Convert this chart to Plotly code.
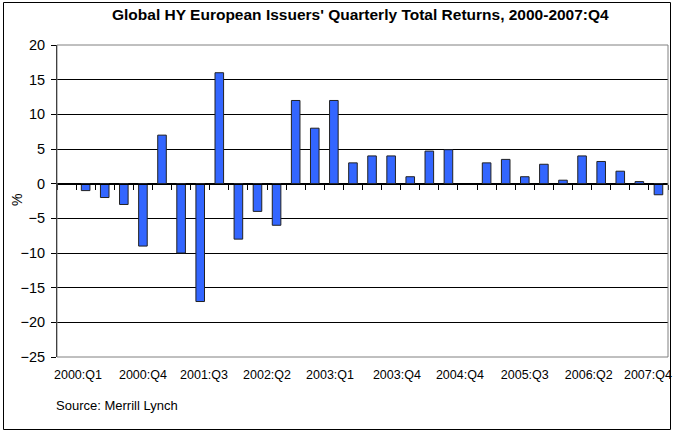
import plotly.graph_objects as go

# ---- data ----
quarters = [f"{y}:Q{q}" for y in range(2000, 2008) for q in range(1, 5)]
returns = [None, -1, -2, -3, -9, 7, -10, -17, 16, -8, -4, -6, 12, 8, 12, 3,
           4, 4, 1, 4.7, 4.9, None, 3, 3.5, 1, 2.8, 0.5, 4, 3.2, 1.8, 0.3, -1.6]
tick_labels = ["2000:Q1", "2000:Q4", "2001:Q3", "2002:Q2", "2003:Q1",
               "2003:Q4", "2004:Q4", "2005:Q3", "2006:Q2", "2007:Q4"]
tick_pos = [1.6, 5.0, 8.2, 11.5, 14.8, 18.3, 21.6, 25.0, 28.35, 31.45]
y_ticks = [20, 15, 10, 5, 0, -5, -10, -15, -20, -25]
y_min, y_max = -25, 20

W, H = 674, 432
PX0, PX1, PY0, PY1 = 57, 668, 45, 357  # plot area in pixels (top-left origin)

def fx(px):
    return px / W

def fy(py):
    return 1 - py / H

idx = list(range(1, len(quarters) + 1))

fig = go.Figure()
fig.add_trace(go.Bar(
    x=idx, y=returns, width=0.45,
    marker=dict(color="#3366FF", line=dict(color="#222222", width=1)),
    hovertext=quarters, showlegend=False,
))
fig.add_trace(go.Scatter(x=[idx[0]], y=[0], xaxis="x2", mode="markers",
                         marker=dict(opacity=0), showlegend=False, hoverinfo="skip"))

font = "Liberation Sans, Arial, sans-serif"
zero_frac = fy(PY1) + (0 - y_min) / (y_max - y_min) * (fy(PY0) - fy(PY1))
fig.update_layout(
    width=W, height=H,
    margin=dict(l=0, r=0, t=0, b=0, autoexpand=False),
    paper_bgcolor="white", plot_bgcolor="white",
    font=dict(family=font, color="#000000", size=12),
    xaxis=dict(domain=[fx(PX0), fx(PX1)], range=[0.5, len(quarters) + 0.5],
               tickmode="array", tickvals=tick_pos, ticktext=tick_labels, ticks="",
               showgrid=False, zeroline=False, showline=False, automargin=False,
               tickfont=dict(size=12.5), ticklabelstandoff=8),
    xaxis2=dict(range=[0.5, len(quarters) + 0.5], overlaying="x", anchor="free",
                position=zero_frac, showticklabels=False, showgrid=False, zeroline=False,
                showline=True, linecolor="#000000", linewidth=1, automargin=False,
                tickmode="linear", tick0=0.5, dtick=1, ticks="outside",
                ticklen=5, tickcolor="#000000", tickwidth=1),
    yaxis=dict(domain=[fy(PY1), fy(PY0)], range=[y_min, y_max], tickmode="array",
               tickvals=y_ticks, ticks="outside", ticklen=5, tickcolor="#000000",
               showgrid=True, gridcolor="#000000", gridwidth=1, automargin=False,
               zeroline=False, showline=True, linecolor="#000000", linewidth=1,
               tickfont=dict(size=14.5), ticklabelstandoff=3),
    bargap=0.5,
    annotations=[
        dict(text="<b>Global HY European Issuers' Quarterly Total Returns, 2000-2007:Q4</b>",
             xref="paper", yref="paper", x=fx(360), y=fy(15), xanchor="center",
             yanchor="middle", showarrow=False, font=dict(size=15.5, family=font)),
        dict(text="%", xref="paper", yref="paper", x=fx(17), y=fy(200),
             xanchor="center", yanchor="middle", textangle=-90, showarrow=False,
             font=dict(size=14, family=font)),
        dict(text="Source: Merrill Lynch", xref="paper", yref="paper",
             x=fx(54), y=fy(405), xanchor="left", yanchor="middle",
             showarrow=False, font=dict(size=13, family=font)),
    ],
    shapes=[
        dict(type="rect", xref="x domain", yref="y domain", x0=0, x1=1, y0=0, y1=1,
             line=dict(color="#808080", width=1), layer="above"),
        dict(type="rect", xref="paper", yref="paper", x0=fx(3.5), x1=fx(670.5),
             y0=fy(429.5), y1=fy(2.5), line=dict(color="#000000", width=1)),
    ],
)

fig.write_html(
    "out.html",
    config={"displayModeBar": False},
    post_script="document.body.style.margin='0';document.body.style.overflow='hidden';",
)
